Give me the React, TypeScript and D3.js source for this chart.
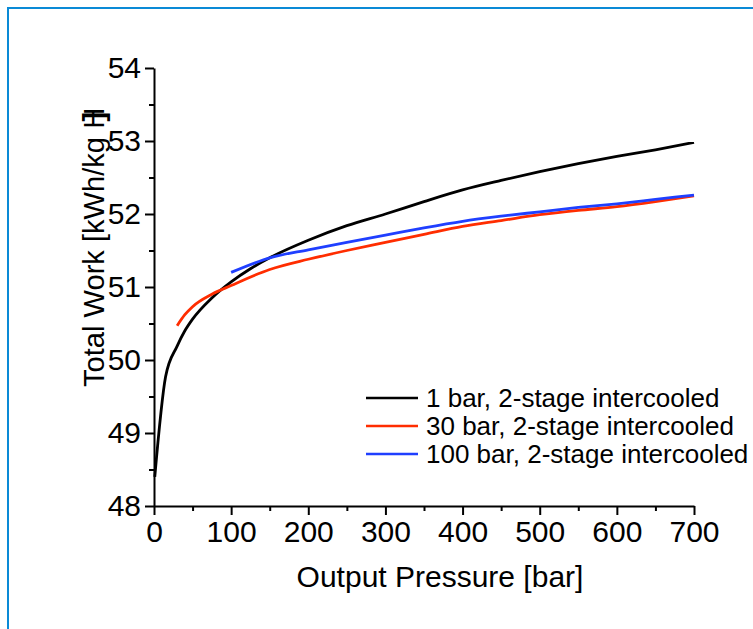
import React, { useRef, useEffect } from "react";
import * as d3 from "d3";

// pressure [bar] / total work [kWh/kg H2]
const p1 = [1, 15, 30, 40, 50, 75, 100, 125, 150, 200, 250, 300, 350, 400, 450, 500, 550, 600, 650, 700];
const w1 = [48.4, 49.77, 50.19, 50.4, 50.56, 50.85, 51.07, 51.25, 51.4, 51.64, 51.84, 52.0, 52.17, 52.33, 52.46, 52.58, 52.69, 52.79, 52.88, 52.98];

const p30 = [30, 40, 50, 75, 100, 150, 200, 250, 300, 350, 400, 450, 500, 550, 600, 650, 700];
const w30 = [50.47, 50.62, 50.73, 50.9, 51.02, 51.24, 51.38, 51.5, 51.61, 51.72, 51.83, 51.91, 51.99, 52.05, 52.1, 52.17, 52.25];

const p100 = [100, 150, 200, 250, 300, 350, 400, 450, 500, 550, 600, 650, 700];
const w100 = [51.2, 51.4, 51.51, 51.61, 51.71, 51.81, 51.9, 51.97, 52.03, 52.09, 52.14, 52.2, 52.26];

const seriesNames = ["1 bar, 2-stage intercooled", "30 bar, 2-stage intercooled", "100 bar, 2-stage intercooled"];
const seriesColors = ["#000000", "#ff2d00", "#1f3fff"];

const xTicks = [0, 100, 200, 300, 400, 500, 600, 700];
const yTicks = [48, 49, 50, 51, 52, 53, 54];

export default function App() {
  const svgRef = useRef<SVGSVGElement>(null);

  useEffect(() => {
    const width = 753;
    const height = 629;
    const font = "'Liberation Sans', Arial, sans-serif";

    const svg = d3.select(svgRef.current)
      .attr("width", width)
      .attr("height", height)
      .attr("viewBox", [0, 0, width, height].join(" "));

    svg.selectAll("*").remove();

    svg.append("rect")
      .attr("width", width).attr("height", height).attr("fill", "white");

    // frame
    svg.append("rect")
      .attr("x", 8).attr("y", 8)
      .attr("width", 900).attr("height", 800)
      .attr("fill", "none")
      .attr("stroke", "#0a8ad6")
      .attr("stroke-width", 2);

    const x = d3.scaleLinear().domain([0, 700]).range([154, 694]);
    const y = d3.scaleLinear().domain([48, 54]).range([506, 68]);

    const series = [
      p1.map((p, i) => [p, w1[i]]),
      p30.map((p, i) => [p, w30[i]]),
      p100.map((p, i) => [p, w100[i]]),
    ] as [number, number][][];

    const line = d3.line<[number, number]>()
      .x(d => x(d[0]))
      .y(d => y(d[1]))
      .curve(d3.curveMonotoneX);

    // minor ticks
    svg.append("g")
      .attr("transform", `translate(0,${y(48)})`)
      .call(d3.axisBottom(x).tickValues(d3.range(50, 700, 100)).tickSize(5).tickFormat(() => ""))
      .call(g => g.select(".domain").remove());
    svg.append("g")
      .attr("transform", `translate(${x(0)},0)`)
      .call(d3.axisLeft(y).tickValues(d3.range(48.5, 54, 1)).tickSize(5).tickFormat(() => ""))
      .call(g => g.select(".domain").remove());

    // X axis
    svg.append("g")
      .attr("transform", `translate(0,${y(48)})`)
      .call(d3.axisBottom(x).tickValues(xTicks).tickSize(9).tickSizeOuter(0).tickPadding(6))
      .call(g => g.selectAll("text")
        .attr("font-size", 30)
        .attr("font-family", font)
        .attr("fill", "#000"));

    // Y axis
    svg.append("g")
      .attr("transform", `translate(${x(0)},0)`)
      .call(d3.axisLeft(y).tickValues(yTicks).tickFormat(d3.format("d")).tickSize(9).tickSizeOuter(0).tickPadding(4))
      .call(g => g.selectAll("text")
        .attr("font-size", 30)
        .attr("font-family", font)
        .attr("fill", "#000"));

    svg.selectAll(".domain, .tick line")
      .attr("stroke", "#000")
      .attr("stroke-width", 2);

    // curves
    series.forEach((s, i) => {
      svg.append("path")
        .datum(s)
        .attr("fill", "none")
        .attr("stroke", seriesColors[i])
        .attr("stroke-width", 2.8)
        .attr("stroke-linejoin", "round")
        .attr("d", line);
    });

    // axis titles
    svg.append("text")
      .attr("x", 440).attr("y", 587)
      .attr("text-anchor", "middle")
      .attr("font-family", font)
      .attr("font-size", 30)
      .text("Output Pressure [bar]");

    const yt = svg.append("text")
      .attr("transform", `translate(104,387) rotate(-90) scale(0.97,1)`)
      .attr("text-anchor", "start")
      .attr("font-family", font)
      .attr("font-size", 30);
    yt.append("tspan").text("Total Work [kWh/kg H");
    yt.append("tspan").attr("dx", -14).attr("font-weight", "bold").text("]");

    // legend
    const legend = svg.append("g").attr("font-family", font).attr("font-size", 26);
    seriesNames.forEach((name, i) => {
      const cy = 398 + i * 28;
      legend.append("line")
        .attr("x1", 366).attr("x2", 418)
        .attr("y1", cy).attr("y2", cy)
        .attr("stroke", seriesColors[i])
        .attr("stroke-width", 2.5);
      legend.append("text")
        .attr("x", 426).attr("y", cy + 9)
        .text(name);
    });
  }, []);

  return <svg ref={svgRef} style={{ position: "absolute", left: 0, top: 0 }}></svg>;
}
